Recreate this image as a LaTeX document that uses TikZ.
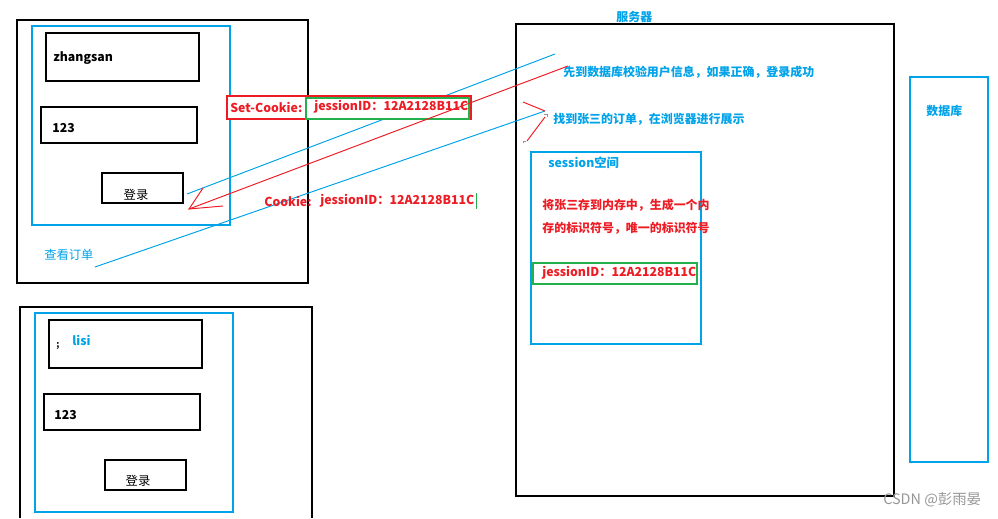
\documentclass[tikz,border=0pt]{standalone}
\usepackage{fontspec}
\setmainfont{Noto Sans CJK SC}
\usetikzlibrary{positioning}
\definecolor{myblue}{RGB}{0,162,232}
\definecolor{myred}{RGB}{237,28,36}
\definecolor{mygreen}{RGB}{34,177,76}
\definecolor{mygray}{RGB}{150,150,150}
\tikzset{
  frame/.style={draw=black, line width=0.6pt},
  bluebox/.style={draw=myblue, line width=0.6pt},
  greenbox/.style={draw=mygreen, line width=0.6pt},
  redbox/.style={draw=myred, fill=white, line width=0.6pt},
  lbl/.style={inner sep=0pt, anchor=west, font=\fontsize{7}{8}\selectfont\bfseries},
  cjklbl/.style={lbl, font=\fontsize{6.8}{8}\selectfont\bfseries},
  bluelbl/.style={lbl, text=myblue},
  redlbl/.style={lbl, text=myred},
  blacklbl/.style={lbl, text=black},
  btnlbl/.style={inner sep=0pt, font=\fontsize{7}{8}\selectfont},
  blueline/.style={draw=myblue, line width=0.55pt},
  redline/.style={draw=myred, line width=0.55pt}
}

\begin{document}
\begin{tikzpicture}[x=0.02cm, y=-0.02cm]
  \useasboundingbox (0,0) rectangle (998,518);

  % browser of zhangsan
  \draw[frame] (17,20) rectangle (308,283);
  \draw[bluebox] (32,26) rectangle (230,225);
  \draw[frame] (46,33) rectangle (199,81);
  \draw[frame] (41,107) rectangle (197,143);
  \draw[frame] (102,173) rectangle (183,203);
  \node[blacklbl] (user1) at (53,58) {zhangsan};
  \node[blacklbl] (pwd1) at (52,128) {123};
  \node[btnlbl] (login1) at (136,195) {登录};
  \node[bluelbl, font=\fontsize{7}{8}\selectfont] (orders) at (44,255) {查看订单};

  % browser of lisi
  \draw[frame] (20,518) |- (312,307) -- (312,518);
  \draw[bluebox] (35,313) rectangle (233,512);
  \draw[frame] (49,320) rectangle (202,368);
  \draw[frame] (44,394) rectangle (200,430);
  \draw[frame] (105,460) rectangle (186,490);
  \node[blacklbl, font=\fontsize{5}{6}\selectfont\bfseries] (semi) at (56,346) {;};
  \node[bluelbl] (user2) at (72,340) {lisi};
  \node[blacklbl] (pwd2) at (54,415) {123};
  \node[btnlbl] (login2) at (138,481) {登录};

  % server
  \draw[frame] (516,24) rectangle (894,496);
  \node[bluelbl, cjklbl] (server) at (616,17) {服务器};
  \node[bluelbl, cjklbl] (check) at (563,72) {先到数据库校验用户信息，如果正确，登录成功};
  \node[bluelbl, cjklbl] (find) at (553,119) {找到张三的订单，在浏览器进行展示};

  % session space
  \draw[bluebox] (531,152) rectangle (701,344);
  \node[bluelbl] (session) at (548,163) {session空间};
  \node[redlbl, cjklbl] (store1) at (542,205) {将张三存到内存中，生成一个内};
  \node[redlbl, cjklbl] (store2) at (542,228) {存的标识符号，唯一的标识符号};
  \draw[greenbox] (533,263) rectangle (697,284);
  \node[redlbl] (sid) at (542,273) {jessionID：12A2128B11C};

  % database
  \draw[bluebox] (910,77) rectangle (988,462);
  \node[bluelbl, cjklbl] (db) at (926,111) {数据库};

  % requests
  \coordinate (req1a) at (187,194);
  \coordinate (req1b) at (555,54);
  \coordinate (req2a) at (95,267);
  \coordinate (req2b) at (545,111);
  \draw[blueline] (req1a) -- (req1b);
  \draw[blueline] (req2a) -- (req2b);
  \draw[redline] (523,102) -- (req2b);
  \draw[redline] (545,117) -- (527,141);
  \draw[mygray, line width=0.4pt] (544,114) -- (547,114) -- (547,117);
  \draw[mygray, line width=0.4pt] (523,143) -- (523,141) -- (526,141);

  % response with cookie
  \draw[redbox] (227,96) rectangle (471,119);
  \draw[greenbox] (306,98) rectangle (469,119);
  \node[redlbl] (setck) at (230,107) {Set-Cookie:};
  \node[redlbl] (setid) at (314,107) {jessionID：12A2128B11C};
  \coordinate (respa) at (568,66);
  \coordinate (resptip) at (189,209);
  \draw[redline] (respa) -- (resptip);
  \draw[redline] (203,188) -- (resptip) -- (223,206);

  \node[redlbl] (ck) at (264,201) {Cookie:};
  \node[redlbl] (ckid) at (320,201) {jessionID：12A2128B11C};
  \draw[mygreen, line width=0.5pt] (476,193) -- (476,209);

  \node[lbl, font=\fontsize{8.2}{9}\selectfont, text=mygray] (mark) at (883,500) {CSDN @彭雨晏};
\end{tikzpicture}
\end{document}
